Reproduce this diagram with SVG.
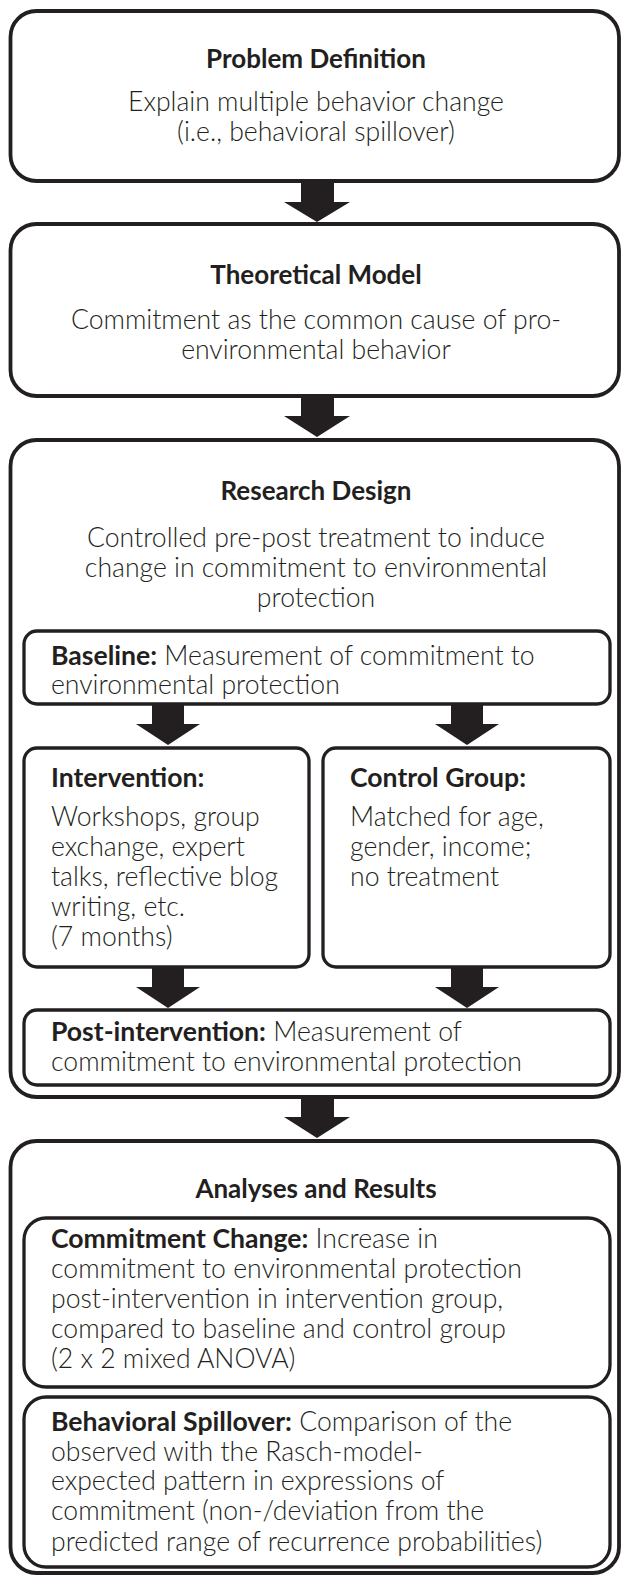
<svg xmlns="http://www.w3.org/2000/svg" width="621" height="1576" viewBox="0 0 621 1576">
<style>
.outer{fill:#fff;stroke:#231f20;stroke-width:3.8}
.inner{fill:#fff;stroke:#231f20;stroke-width:3.3}
.arrow{fill:#231f20;stroke:none}
text{font-family:Lato,"Liberation Sans",sans-serif;font-size:26.6px;fill:#231f20;font-weight:300}
.c{text-anchor:middle}
.b{font-weight:700}
.h{font-size:26px}
</style>
<rect width="621" height="1576" fill="#fff"/>
<g id="problem-definition">
<rect class="outer" x="10.5" y="11" width="608.5" height="170" rx="26"/>
<text class="c b h" x="316" y="68">Problem Definition</text>
<text class="c" x="316" y="111">Explain multiple behavior change</text>
<text class="c" x="316" y="141">(i.e., behavioral spillover)</text>
</g>
<g id="theoretical-model">
<rect class="outer" x="10.5" y="224" width="608.5" height="172" rx="26"/>
<text class="c b h" x="316" y="284">Theoretical Model</text>
<text class="c" x="316" y="329">Commitment as the common cause of pro-</text>
<text class="c" x="316" y="359">environmental behavior</text>
</g>
<g id="research-design">
<rect class="outer" x="10.5" y="440" width="608.5" height="657" rx="26"/>
<text class="c b h" x="316" y="500">Research Design</text>
<text class="c" x="316" y="547">Controlled pre-post treatment to induce</text>
<text class="c" x="316" y="577">change in commitment to environmental</text>
<text class="c" x="316" y="607">protection</text>
</g>
<g id="baseline">
<rect class="inner" x="24" y="631" width="586" height="73" rx="13"/>
<text x="51" y="665"><tspan class="b">Baseline:</tspan> Measurement of commitment to</text>
<text x="51" y="694">environmental protection</text>
</g>
<g id="intervention">
<rect class="inner" x="24" y="748" width="285" height="219" rx="13"/>
<text class="b" x="51" y="787">Intervention:</text>
<text x="51" y="826">Workshops, group</text>
<text x="51" y="856">exchange, expert</text>
<text x="51" y="886">talks, reflective blog</text>
<text x="51" y="916">writing, etc.</text>
<text x="51" y="946">(7 months)</text>
</g>
<g id="control-group">
<rect class="inner" x="323" y="748" width="287" height="219" rx="13"/>
<text class="b" x="350" y="787">Control Group:</text>
<text x="350" y="826">Matched for age,</text>
<text x="350" y="856">gender, income;</text>
<text x="350" y="886">no treatment</text>
</g>
<g id="post-intervention">
<rect class="inner" x="24" y="1010" width="586" height="75" rx="13"/>
<text x="51" y="1041"><tspan class="b">Post-intervention:</tspan> Measurement of</text>
<text x="51" y="1071">commitment to environmental protection</text>
</g>
<g id="analyses-and-results">
<rect class="outer" x="10.5" y="1141" width="608.5" height="432" rx="26"/>
<text class="c b h" x="316" y="1198">Analyses and Results</text>
</g>
<g id="commitment-change">
<rect class="inner" x="24" y="1218" width="586" height="169" rx="22"/>
<text x="51" y="1248"><tspan class="b">Commitment Change:</tspan> Increase in</text>
<text x="51" y="1278">commitment to environmental protection</text>
<text x="51" y="1308">post-intervention in intervention group,</text>
<text x="51" y="1338">compared to baseline and control group</text>
<text x="51" y="1368">(2 x 2 mixed ANOVA)</text>
</g>
<g id="behavioral-spillover">
<rect class="inner" x="24" y="1397" width="586" height="170" rx="22"/>
<text x="51" y="1431"><tspan class="b">Behavioral Spillover:</tspan> Comparison of the</text>
<text x="51" y="1461">observed with the Rasch-model-</text>
<text x="51" y="1490">expected pattern in expressions of</text>
<text x="51" y="1520">commitment (non-/deviation from the</text>
<text x="51" y="1551">predicted range of recurrence probabilities)</text>
</g>
<g id="connectors">
<path class="arrow" d="M301,181 H334 V202 H350 L317,222 L284,202 H301 Z"/>
<path class="arrow" d="M301,396 H334 V416 H350 L317,437 L284,416 H301 Z"/>
<path class="arrow" d="M152,704 H184 V724 H200 L168,745 L136,724 H152 Z"/>
<path class="arrow" d="M451,704 H483 V724 H499 L467,745 L435,724 H451 Z"/>
<path class="arrow" d="M152,967 H184 V987 H200 L168,1008 L136,987 H152 Z"/>
<path class="arrow" d="M451,967 H483 V987 H499 L467,1008 L435,987 H451 Z"/>
<path class="arrow" d="M301,1097 H334 V1117 H350 L317,1138 L284,1117 H301 Z"/>
</g>
</svg>
